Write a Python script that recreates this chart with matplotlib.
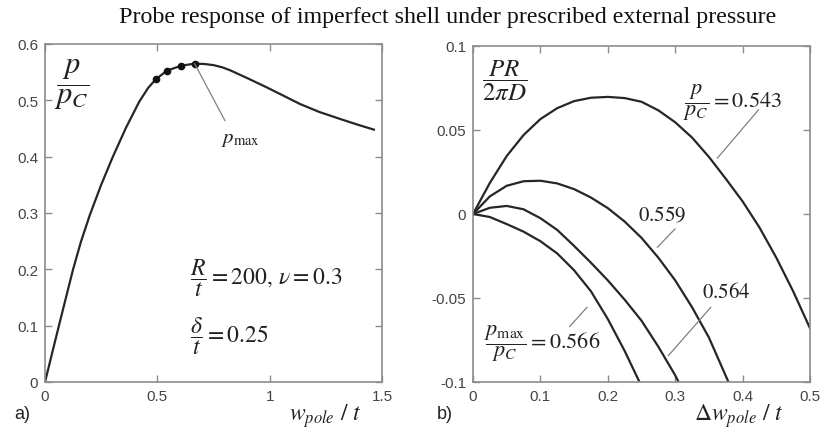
import matplotlib
matplotlib.use("Agg")
import matplotlib.pyplot as plt

plt.rcParams['mathtext.fontset'] = 'stix'
plt.rcParams['font.family'] = ['Liberation Sans', 'DejaVu Sans']

# a) load vs pole deflection of the imperfect shell
w_pole = [0, 0.031, 0.062, 0.094, 0.125, 0.16, 0.2, 0.25, 0.3, 0.36, 0.42,
          0.46, 0.493, 0.542, 0.606, 0.666, 0.71, 0.75, 0.79, 0.823, 0.9,
          0.987, 1.06, 1.135, 1.22, 1.313, 1.39, 1.464]
p_ratio = [0, 0.0502, 0.1, 0.151, 0.2, 0.249, 0.297, 0.35, 0.398, 0.451,
           0.498, 0.5225, 0.5373, 0.5525, 0.5615, 0.5651, 0.5645, 0.5625,
           0.5585, 0.5535, 0.5395, 0.523, 0.5085, 0.4935, 0.4795, 0.467,
           0.457, 0.448]
probe_idx = [12, 13, 14, 15]   # probe points on the load path

# b) probe force vs additional pole deflection, one curve per load level
probe_levels = ['0.543', '0.559', '0.564', '0.566']
dw_543 = [0, 0.025, 0.05, 0.075, 0.1, 0.125, 0.15, 0.175, 0.2, 0.225, 0.25,
          0.275, 0.3, 0.325, 0.35, 0.375, 0.4, 0.425, 0.45, 0.475, 0.5]
pr_543 = [0, 0.0185, 0.0345, 0.047, 0.0565, 0.063, 0.0672, 0.0692, 0.0697,
          0.069, 0.0668, 0.0617, 0.0546, 0.0455, 0.034, 0.021, 0.0075,
          -0.008, -0.026, -0.046, -0.068]
dw_559 = [0, 0.025, 0.05, 0.075, 0.1, 0.125, 0.15, 0.175, 0.2, 0.225, 0.25,
          0.275, 0.3, 0.325, 0.35, 0.379]
pr_559 = [0, 0.0105, 0.0168, 0.0195, 0.0198, 0.0182, 0.0148, 0.0098, 0.0035,
          -0.0045, -0.0142, -0.026, -0.0395, -0.0555, -0.0735, -0.1]
dw_564 = [0, 0.025, 0.05, 0.075, 0.1, 0.125, 0.15, 0.175, 0.2, 0.225, 0.25,
          0.275, 0.3, 0.305]
pr_564 = [0, 0.0037, 0.0048, 0.0028, -0.0025, -0.0095, -0.019, -0.029,
          -0.0395, -0.051, -0.0635, -0.079, -0.096, -0.1]
dw_566 = [0, 0.025, 0.05, 0.075, 0.1, 0.125, 0.15, 0.175, 0.2, 0.225, 0.247]
pr_566 = [0, -0.0018, -0.006, -0.0105, -0.0162, -0.0235, -0.0335, -0.046,
          -0.0625, -0.0815, -0.1]

curve_col = '#262626'
lead_col = '#808080'
frame_col = '#8c8c8c'
tick_col = '#444444'
text_col = '#222222'


def style_axes(ax):
    for s in ax.spines.values():
        s.set_color(frame_col)
        s.set_linewidth(1.2)
    ax.tick_params(direction='in', top=True, right=True, length=5,
                   width=1, color=frame_col, labelcolor=tick_col,
                   labelsize=11)
    ax.tick_params(axis='x', pad=5)
    ax.tick_params(axis='y', pad=5)


fig = plt.figure(figsize=(8.23, 4.31), dpi=100)
ax1 = fig.add_axes([45 / 823, 48 / 431, 337 / 823, 338 / 431])
ax2 = fig.add_axes([473 / 823, 48 / 431, 337 / 823, 336 / 431])

# ---- panel a
ax1.plot(w_pole, p_ratio, color=curve_col, lw=1.6, solid_joinstyle='round')
ax1.plot([w_pole[i] for i in probe_idx], [p_ratio[i] for i in probe_idx],
         'o', color='#111111', ms=4.5)
ax1.set_xlim(0, 1.5)
ax1.set_ylim(0, 0.6)
ax1.set_xticks([0, 0.5, 1, 1.5], ['0', '0.5', '1', '1.5'])
ax1.set_yticks([0, 0.1, 0.2, 0.3, 0.4, 0.5, 0.6],
               ['0', '0.1', '0.2', '0.3', '0.4', '0.5', '0.6'])
style_axes(ax1)

ax1.plot([w_pole[15], 0.801], [p_ratio[15], 0.464], color=lead_col, lw=0.9)
ax1.text(0.87, 0.433, r'$p_{\rm max}$', fontsize=15, ha='center',
         va='center', color=text_col)
ax1.text(0.08, 0.885, r'$\dfrac{p}{p_C}$', fontsize=22, ha='center',
         va='center', transform=ax1.transAxes, color=text_col)
ax1.text(0.645, 0.186, r'$\dfrac{R}{t} = 200,\, \nu = 0.3$', fontsize=17,
         ha='left', va='center', color=text_col)
ax1.text(0.645, 0.082, r'$\dfrac{\delta}{t} = 0.25$', fontsize=17,
         ha='left', va='center', color=text_col)
fig.text(325 / 823, 1 - 421 / 431, r'$w_{pole}\ /\ t$', fontsize=17,
         ha='center', va='baseline', color=text_col)
fig.text(22 / 823, 1 - 415 / 431, 'a)', fontsize=13, ha='center',
         va='center', color=text_col)

# ---- panel b
for dw, pr in [(dw_543, pr_543), (dw_559, pr_559),
               (dw_564, pr_564), (dw_566, pr_566)]:
    ax2.plot(dw, pr, color=curve_col, lw=1.6, solid_joinstyle='round')
ax2.set_xlim(0, 0.5)
ax2.set_ylim(-0.1, 0.1)
ax2.set_xticks([0, 0.1, 0.2, 0.3, 0.4, 0.5],
               ['0', '0.1', '0.2', '0.3', '0.4', '0.5'])
ax2.set_yticks([-0.1, -0.05, 0, 0.05, 0.1],
               ['-0.1', '-0.05', '0', '0.05', '0.1'])
style_axes(ax2)

ax2.text(0.094, 0.9, r'$\dfrac{PR}{2\pi D}$', fontsize=18, ha='center',
         va='center', transform=ax2.transAxes, color=text_col)

ax2.plot([0.3627, 0.4236], [0.0333, 0.0620], color=lead_col, lw=0.9)
ax2.text(0.311, 0.0667, r'$\dfrac{p}{p_C} = ' + probe_levels[0] + '$',
         fontsize=16, ha='left', va='center', color=text_col)

ax2.plot([0.2735, 0.2997], [-0.0198, -0.0089], color=lead_col, lw=0.9)
ax2.text(0.280, 0.0, '$' + probe_levels[1] + '$', fontsize=15,
         ha='center', va='center', color=text_col)

ax2.plot([0.2898, 0.3527], [-0.0843, -0.0556], color=lead_col, lw=0.9)
ax2.text(0.376, -0.0457, '$' + probe_levels[2] + '$', fontsize=15,
         ha='center', va='center', color=text_col)

ax2.plot([0.1435, 0.1691], [-0.0669, -0.0556], color=lead_col, lw=0.9)
ax2.text(0.016, -0.0764, r'$\dfrac{p_{\rm max}}{p_C} = ' + probe_levels[3] + '$',
         fontsize=16, ha='left', va='center', color=text_col)

fig.text(739 / 823, 1 - 421 / 431, r'$\Delta w_{pole}\ /\ t$', fontsize=17,
         ha='center', va='baseline', color=text_col)
fig.text(445 / 823, 1 - 415 / 431, 'b)', fontsize=13, ha='center',
         va='center', color=text_col)

fig.text(448 / 823, 1 - 17 / 431,
         'Probe response of imperfect shell under prescribed external pressure',
         fontsize=17.3, ha='center', va='center', family='Liberation Serif',
         color='#111111')

fig.savefig('out.png', dpi=100)
